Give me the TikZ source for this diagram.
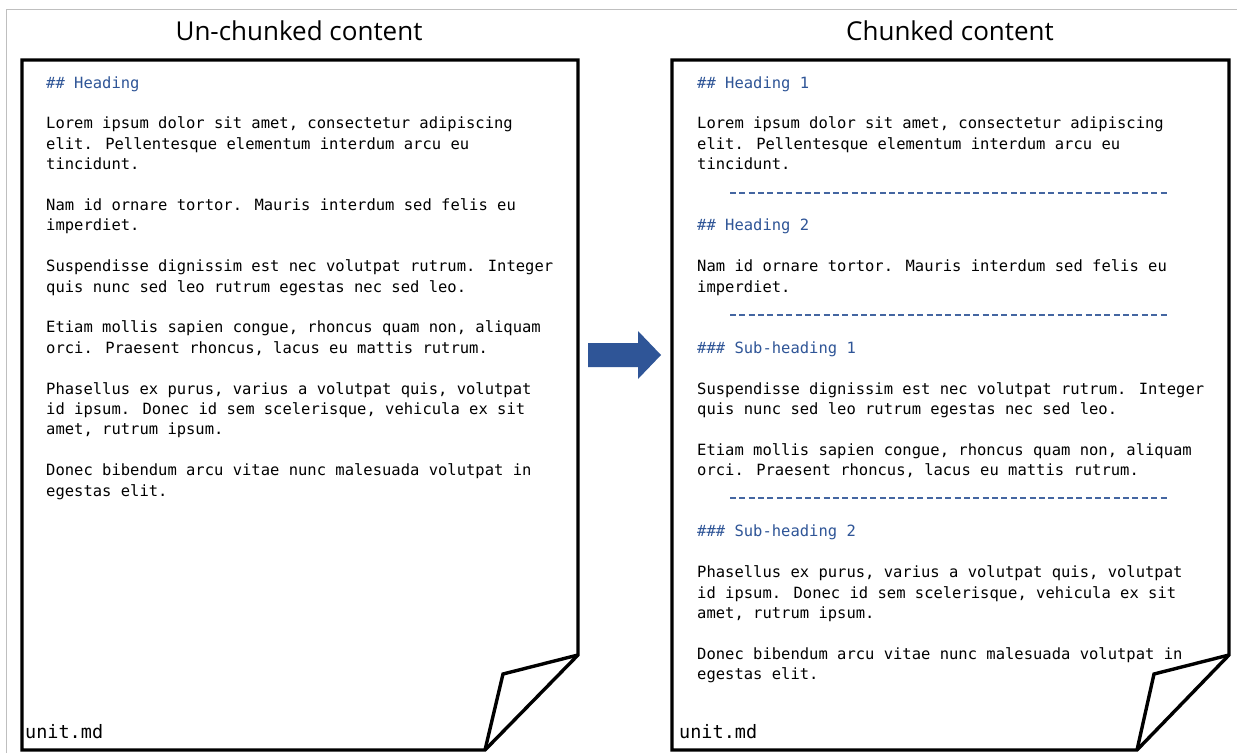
\documentclass[tikz,border=0pt]{standalone}
\usepackage{fontspec}
\newfontfamily\codefont{DejaVu Sans Mono}
\newfontfamily\titlefont{Open Sans}
\definecolor{mdblue}{HTML}{2F5597}
\definecolor{frame}{HTML}{BFBFBF}

% one line of the markdown text, on a 20.4pt line grid
\newcommand\mdline[5][black]{%
  \node[codeline, text=#1] (#2) at (#3, {88+#4*20.4}) {#5};}

\begin{document}
\begin{tikzpicture}[x=1pt, y=-1pt,
  codeline/.style={anchor=base west, inner sep=0pt,
    font=\codefont\fontsize{15.5}{20.4}\selectfont},
  titletext/.style={anchor=base, inner sep=0pt,
    font=\titlefont\fontsize{26}{30}\selectfont},
  filename/.style={anchor=base west, inner sep=0pt,
    font=\codefont\fontsize{18.5}{22}\selectfont},
  page/.style={draw=black, line width=3.4pt, line join=miter},
  chunkcut/.style={draw=mdblue!90, line width=2pt, dash pattern=on 6pt off 3.36pt},
  blockarrow/.style={fill=mdblue, draw=none}]

\useasboundingbox (0,0) rectangle (1237,753);
\fill[white] (0,0) rectangle (1237,753);

% thin outer frame
\draw[frame, line width=1pt] (6,753) -- (6,9) -- (1237,9);

% ---------------- left page ----------------
\coordinate (lnw) at (22,60);
\coordinate (lne) at (578,60);
\coordinate (lcorner) at (578,655);
\coordinate (lflap) at (503,674);
\coordinate (lfoot) at (485,750);
\coordinate (lsw) at (22,750);
\draw[page] (lnw) -- (lne) -- (lcorner) -- (lfoot) -- (lsw) -- cycle;
\draw[page] (lcorner) -- (lflap) -- (lfoot);

\node[titletext] (ltitle) at (299,40) {Un-chunked content};

\mdline[mdblue]{la0}{46}{0}{\#\# Heading}
\mdline{la2}{46}{2}{Lorem ipsum dolor sit amet, consectetur adipiscing}
\mdline{la3}{46}{3}{elit. Pellentesque elementum interdum arcu eu}
\mdline{la4}{46}{4}{tincidunt.}
\mdline{la6}{46}{6}{Nam id ornare tortor. Mauris interdum sed felis eu}
\mdline{la7}{46}{7}{imperdiet.}
\mdline{la9}{46}{9}{Suspendisse dignissim est nec volutpat rutrum. Integer}
\mdline{la10}{46}{10}{quis nunc sed leo rutrum egestas nec sed leo.}
\mdline{la12}{46}{12}{Etiam mollis sapien congue, rhoncus quam non, aliquam}
\mdline{la13}{46}{13}{orci. Praesent rhoncus, lacus eu mattis rutrum.}
\mdline{la15}{46}{15}{Phasellus ex purus, varius a volutpat quis, volutpat}
\mdline{la16}{46}{16}{id ipsum. Donec id sem scelerisque, vehicula ex sit}
\mdline{la17}{46}{17}{amet, rutrum ipsum.}
\mdline{la19}{46}{19}{Donec bibendum arcu vitae nunc malesuada volutpat in}
\mdline{la20}{46}{20}{egestas elit.}

\node[filename] (lfile) at (25,738) {unit.md};

% ---------------- arrow ----------------
\fill[blockarrow] (588,343) -- (638,343) -- (638,331) -- (661,355)
  -- (638,379) -- (638,367) -- (588,367) -- cycle;

% ---------------- right page ----------------
\coordinate (rnw) at (672,60);
\coordinate (rne) at (1229,60);
\coordinate (rcorner) at (1229,655);
\coordinate (rflap) at (1154,674);
\coordinate (rfoot) at (1137,750);
\coordinate (rsw) at (672,750);
\draw[page] (rnw) -- (rne) -- (rcorner) -- (rfoot) -- (rsw) -- cycle;
\draw[page] (rcorner) -- (rflap) -- (rfoot);

\node[titletext] (rtitle) at (950,40) {Chunked content};

\mdline[mdblue]{ra0}{697}{0}{\#\# Heading 1}
\mdline{ra2}{697}{2}{Lorem ipsum dolor sit amet, consectetur adipiscing}
\mdline{ra3}{697}{3}{elit. Pellentesque elementum interdum arcu eu}
\mdline{ra4}{697}{4}{tincidunt.}

\coordinate (cutAw) at (730,193);
\coordinate (cutAe) at (1167,193);
\draw[chunkcut] (cutAw) -- (cutAe);

\mdline[mdblue]{ra7}{697}{7}{\#\# Heading 2}
\mdline{ra9}{697}{9}{Nam id ornare tortor. Mauris interdum sed felis eu}
\mdline{ra10}{697}{10}{imperdiet.}

\coordinate (cutBw) at (730,315);
\coordinate (cutBe) at (1167,315);
\draw[chunkcut] (cutBw) -- (cutBe);

\mdline[mdblue]{ra13}{697}{13}{\#\#\# Sub-heading 1}
\mdline{ra15}{697}{15}{Suspendisse dignissim est nec volutpat rutrum. Integer}
\mdline{ra16}{697}{16}{quis nunc sed leo rutrum egestas nec sed leo.}
\mdline{ra18}{697}{18}{Etiam mollis sapien congue, rhoncus quam non, aliquam}
\mdline{ra19}{697}{19}{orci. Praesent rhoncus, lacus eu mattis rutrum.}

\coordinate (cutCw) at (730,498);
\coordinate (cutCe) at (1167,498);
\draw[chunkcut] (cutCw) -- (cutCe);

\mdline[mdblue]{ra22}{697}{22}{\#\#\# Sub-heading 2}
\mdline{ra24}{697}{24}{Phasellus ex purus, varius a volutpat quis, volutpat}
\mdline{ra25}{697}{25}{id ipsum. Donec id sem scelerisque, vehicula ex sit}
\mdline{ra26}{697}{26}{amet, rutrum ipsum.}
\mdline{ra28}{697}{28}{Donec bibendum arcu vitae nunc malesuada volutpat in}
\mdline{ra29}{697}{29}{egestas elit.}

\node[filename] (rfile) at (679,738) {unit.md};

\end{tikzpicture}
\end{document}
